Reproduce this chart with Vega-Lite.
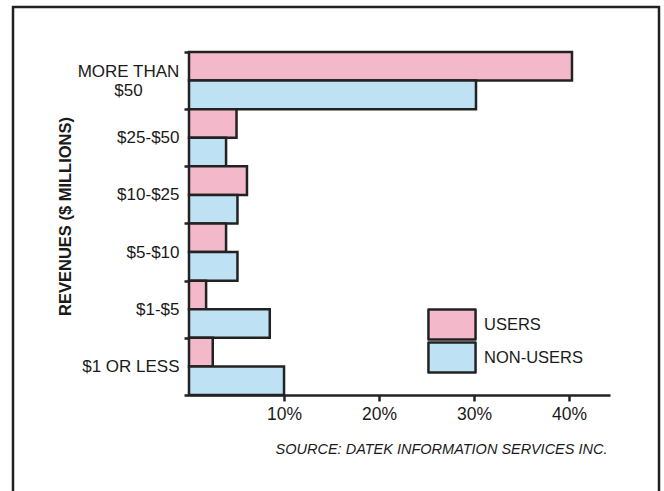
{
  "$schema": "https://vega.github.io/schema/vega-lite/v6.json",
  "width": 646,
  "height": 500,
  "autosize": {"type": "none"},
  "padding": {"left": 13, "top": 7, "right": 5, "bottom": 0},
  "background": "white",
  "config": {"view": {"stroke": "#222", "strokeWidth": 2.5}, "font": "Liberation Sans"},
  "data": {"values": [
    {"revenue": "MORE THAN $50", "group": "USERS", "pct": 40.3},
    {"revenue": "MORE THAN $50", "group": "NON-USERS", "pct": 30.2},
    {"revenue": "$25-$50", "group": "USERS", "pct": 5.0},
    {"revenue": "$25-$50", "group": "NON-USERS", "pct": 3.9},
    {"revenue": "$10-$25", "group": "USERS", "pct": 6.1},
    {"revenue": "$10-$25", "group": "NON-USERS", "pct": 5.1},
    {"revenue": "$5-$10", "group": "USERS", "pct": 3.9},
    {"revenue": "$5-$10", "group": "NON-USERS", "pct": 5.1},
    {"revenue": "$1-$5", "group": "USERS", "pct": 1.8},
    {"revenue": "$1-$5", "group": "NON-USERS", "pct": 8.5},
    {"revenue": "$1 OR LESS", "group": "USERS", "pct": 2.5},
    {"revenue": "$1 OR LESS", "group": "NON-USERS", "pct": 10.0}
  ]},
  "mark": {"type": "bar", "stroke": "#222", "strokeWidth": 2.5},
  "encoding": {
    "y": {
      "field": "revenue", "type": "nominal",
      "sort": ["MORE THAN $50", "$25-$50", "$10-$25", "$5-$10", "$1-$5", "$1 OR LESS"],
      "scale": {"range": [45, 388], "paddingInner": 0, "paddingOuter": 0},
      "axis": {
        "title": "REVENUES ($ MILLIONS)",
        "offset": -176,
        "domainColor": "#222", "domainWidth": 2.5,
        "tickBand": "extent", "tickSize": 5, "tickWidth": 2.5, "tickColor": "#222",
        "labelFontSize": 17, "labelColor": "#1a1a1a", "labelLineHeight": 19,
        "labelExpr": "datum.value == 'MORE THAN $50' ? ['MORE THAN', '$50'] : datum.value",
        "labelAlign": {"condition": {"test": "datum.value == 'MORE THAN $50'", "value": "center"}, "value": "right"},
        "labelPadding": {"condition": {"test": "datum.value == 'MORE THAN $50'", "value": 56}, "value": 5},
        "labelOffset": {"condition": {"test": "datum.value == 'MORE THAN $50'", "value": -9.5}, "value": 0},
        "titleFontSize": 16.5, "titleFontWeight": "bold", "titleColor": "#1a1a1a",
        "titlePadding": 4, "titleY": 209,
        "grid": false
      }
    },
    "yOffset": {
      "field": "group", "type": "nominal", "sort": ["USERS", "NON-USERS"],
      "scale": {"paddingInner": 0, "paddingOuter": 0}
    },
    "x": {
      "field": "pct", "type": "quantitative",
      "scale": {"domain": [0, 44.3], "range": [176, 597], "nice": false},
      "axis": {
        "orient": "bottom", "offset": -112, "values": [10, 20, 30, 40],
        "labelExpr": "datum.value + '%'",
        "domainColor": "#222", "domainWidth": 2.5,
        "tickColor": "#222", "tickWidth": 2.5, "tickSize": 6,
        "labelFontSize": 17.5, "labelColor": "#1a1a1a", "labelPadding": 4,
        "grid": false,
        "title": "SOURCE: DATEK INFORMATION SERVICES INC.",
        "titleFontStyle": "italic", "titleFontWeight": "normal", "titleFontSize": 14.5,
        "titleColor": "#1a1a1a", "titleAnchor": "end", "titleAlign": "right",
        "titleX": 594, "titlePadding": 20
      }
    },
    "color": {
      "field": "group", "type": "nominal",
      "scale": {"domain": ["USERS", "NON-USERS"], "range": ["#f3b9cb", "#bfe1f4"]},
      "legend": {
        "title": null, "orient": "none", "legendX": 422.5, "legendY": 301, "padding": 0,
        "symbolType": "M-1.57,-1H1.57V1H-1.57Z", "symbolSize": 900,
        "symbolStrokeColor": "#222", "symbolStrokeWidth": 2.5, "symbolOpacity": 1,
        "labelFontSize": 16.5, "labelColor": "#1a1a1a", "labelOffset": 15.5, "rowPadding": -5,
        "encode": {"symbols": {"update": {"strokeJoin": {"value": "round"}}}}
      }
    }
  }
}
